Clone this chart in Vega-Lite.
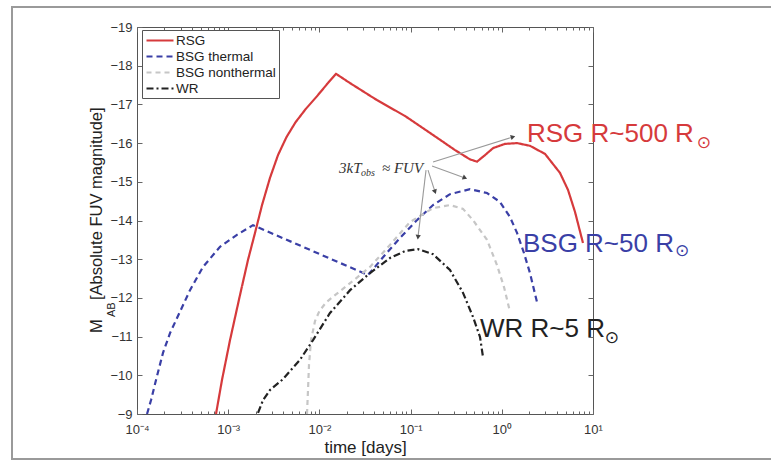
{
  "$schema": "https://vega.github.io/schema/vega-lite/v6.json",
  "width": 456,
  "height": 387,
  "autosize": {"type": "none"},
  "padding": {"left": 137, "top": 27, "right": 178, "bottom": 48},
  "background": "white",
  "config": {
    "font": "Liberation Sans",
    "view": {"stroke": "#555", "strokeWidth": 1},
    "axis": {"labelFont": "Liberation Sans", "titleFont": "Liberation Sans", "labelColor": "#333", "titleColor": "#222", "grid": false, "domain": false, "tickColor": "#666", "tickWidth": 1},
    "legend": {"orient": "none", "legendX": 5, "legendY": 3, "strokeColor": "#555", "fillColor": "white", "padding": 3, "labelFontSize": 13.5, "labelFont": "Liberation Sans", "labelColor": "#222", "symbolType": "M-1,0H3.5", "symbolSize": 144, "symbolStrokeWidth": 2, "rowPadding": 2, "labelOffset": 16, "cornerRadius": 0}
  },
  "datasets": {
    "curves": [
      {"series": "RSG", "t": 0.000735, "M": -9.0},
      {"series": "RSG", "t": 0.000855, "M": -9.88},
      {"series": "RSG", "t": 0.001047, "M": -10.91},
      {"series": "RSG", "t": 0.001346, "M": -12.07},
      {"series": "RSG", "t": 0.001648, "M": -12.98},
      {"series": "RSG", "t": 0.001968, "M": -13.68},
      {"series": "RSG", "t": 0.00235, "M": -14.40},
      {"series": "RSG", "t": 0.002871, "M": -15.10},
      {"series": "RSG", "t": 0.003516, "M": -15.69},
      {"series": "RSG", "t": 0.004365, "M": -16.16},
      {"series": "RSG", "t": 0.005482, "M": -16.54},
      {"series": "RSG", "t": 0.007075, "M": -16.88},
      {"series": "RSG", "t": 0.009395, "M": -17.21},
      {"series": "RSG", "t": 0.01239, "M": -17.55},
      {"series": "RSG", "t": 0.01521, "M": -17.79},
      {"series": "RSG", "t": 0.02168, "M": -17.55},
      {"series": "RSG", "t": 0.04285, "M": -17.11},
      {"series": "RSG", "t": 0.0869, "M": -16.70},
      {"series": "RSG", "t": 0.1762, "M": -16.21},
      {"series": "RSG", "t": 0.3069, "M": -15.82},
      {"series": "RSG", "t": 0.4477, "M": -15.58},
      {"series": "RSG", "t": 0.5346, "M": -15.52},
      {"series": "RSG", "t": 0.6546, "M": -15.69},
      {"series": "RSG", "t": 0.8017, "M": -15.87},
      {"series": "RSG", "t": 1.084, "M": -15.98},
      {"series": "RSG", "t": 1.469, "M": -16.0},
      {"series": "RSG", "t": 2.037, "M": -15.93},
      {"series": "RSG", "t": 2.979, "M": -15.72},
      {"series": "RSG", "t": 4.345, "M": -15.23},
      {"series": "RSG", "t": 5.321, "M": -14.79},
      {"series": "RSG", "t": 6.353, "M": -14.22},
      {"series": "RSG", "t": 7.762, "M": -13.42},
      {"series": "BSG thermal", "t": 0.0001288, "M": -9.0},
      {"series": "BSG thermal", "t": 0.0001426, "M": -9.36},
      {"series": "BSG thermal", "t": 0.0001616, "M": -9.88},
      {"series": "BSG thermal", "t": 0.0001928, "M": -10.58},
      {"series": "BSG thermal", "t": 0.0002301, "M": -11.09},
      {"series": "BSG thermal", "t": 0.0002748, "M": -11.48},
      {"series": "BSG thermal", "t": 0.0003811, "M": -12.20},
      {"series": "BSG thermal", "t": 0.0005297, "M": -12.80},
      {"series": "BSG thermal", "t": 0.0008128, "M": -13.32},
      {"series": "BSG thermal", "t": 0.001247, "M": -13.63},
      {"series": "BSG thermal", "t": 0.001871, "M": -13.88},
      {"series": "BSG thermal", "t": 0.03412, "M": -12.59},
      {"series": "BSG thermal", "t": 0.05236, "M": -13.11},
      {"series": "BSG thermal", "t": 0.07656, "M": -13.55},
      {"series": "BSG thermal", "t": 0.1175, "M": -14.01},
      {"series": "BSG thermal", "t": 0.1762, "M": -14.40},
      {"series": "BSG thermal", "t": 0.2704, "M": -14.68},
      {"series": "BSG thermal", "t": 0.4477, "M": -14.81},
      {"series": "BSG thermal", "t": 0.6887, "M": -14.71},
      {"series": "BSG thermal", "t": 0.955, "M": -14.48},
      {"series": "BSG thermal", "t": 1.23, "M": -14.09},
      {"series": "BSG thermal", "t": 1.469, "M": -13.68},
      {"series": "BSG thermal", "t": 1.75, "M": -13.16},
      {"series": "BSG thermal", "t": 2.037, "M": -12.64},
      {"series": "BSG thermal", "t": 2.432, "M": -11.89},
      {"series": "BSG nonthermal", "t": 0.00731, "M": -9.0},
      {"series": "BSG nonthermal", "t": 0.0075, "M": -9.62},
      {"series": "BSG nonthermal", "t": 0.00769, "M": -10.27},
      {"series": "BSG nonthermal", "t": 0.00809, "M": -10.91},
      {"series": "BSG nonthermal", "t": 0.00895, "M": -11.40},
      {"series": "BSG nonthermal", "t": 0.01, "M": -11.66},
      {"series": "BSG nonthermal", "t": 0.01180, "M": -11.88},
      {"series": "BSG nonthermal", "t": 0.01483, "M": -12.07},
      {"series": "BSG nonthermal", "t": 0.02168, "M": -12.38},
      {"series": "BSG nonthermal", "t": 0.03589, "M": -12.80},
      {"series": "BSG nonthermal", "t": 0.05943, "M": -13.37},
      {"series": "BSG nonthermal", "t": 0.0984, "M": -13.96},
      {"series": "BSG nonthermal", "t": 0.1762, "M": -14.32},
      {"series": "BSG nonthermal", "t": 0.2704, "M": -14.40},
      {"series": "BSG nonthermal", "t": 0.3758, "M": -14.30},
      {"series": "BSG nonthermal", "t": 0.4831, "M": -14.01},
      {"series": "BSG nonthermal", "t": 0.6887, "M": -13.50},
      {"series": "BSG nonthermal", "t": 0.8851, "M": -12.85},
      {"series": "BSG nonthermal", "t": 1.057, "M": -12.28},
      {"series": "BSG nonthermal", "t": 1.23, "M": -11.64},
      {"series": "WR", "t": 0.002123, "M": -9.03},
      {"series": "WR", "t": 0.00241, "M": -9.36},
      {"series": "WR", "t": 0.002871, "M": -9.62},
      {"series": "WR", "t": 0.00399, "M": -9.90},
      {"series": "WR", "t": 0.006124, "M": -10.40},
      {"series": "WR", "t": 0.008511, "M": -10.91},
      {"series": "WR", "t": 0.01306, "M": -11.61},
      {"series": "WR", "t": 0.02168, "M": -12.20},
      {"series": "WR", "t": 0.03589, "M": -12.64},
      {"series": "WR", "t": 0.05943, "M": -13.03},
      {"series": "WR", "t": 0.0869, "M": -13.21},
      {"series": "WR", "t": 0.1205, "M": -13.26},
      {"series": "WR", "t": 0.1762, "M": -13.13},
      {"series": "WR", "t": 0.2704, "M": -12.72},
      {"series": "WR", "t": 0.3758, "M": -12.13},
      {"series": "WR", "t": 0.4831, "M": -11.51},
      {"series": "WR", "t": 0.5768, "M": -10.99},
      {"series": "WR", "t": 0.6223, "M": -10.47}
    ],
    "arrows": [
      {"id": 1, "t0": 0.1762, "M0": -15.51, "t1": 1.327, "M1": -16.16},
      {"id": 2, "t0": 0.1718, "M0": -15.41, "t1": 0.3945, "M1": -15.10},
      {"id": 3, "t0": 0.1552, "M0": -15.30, "t1": 0.1854, "M1": -14.74},
      {"id": 4, "t0": 0.1476, "M0": -15.30, "t1": 0.1205, "M1": -13.57}
    ],
    "labels": [
      {"text": "RSG R~500 R", "series": "RSG", "t": 1.888, "M": -16.03},
      {"text": "BSG R~50 R", "series": "BSG thermal", "t": 1.706, "M": -13.19},
      {"text": "WR R~5 R", "series": "WR", "t": 0.577, "M": -10.99}
    ],
    "suns": [
      {"series": "RSG", "t": 164.8, "M": -16.0},
      {"series": "BSG thermal", "t": 94.6, "M": -13.21},
      {"series": "WR", "t": 16.14, "M": -10.96}
    ],
    "notes": [
      {"part": "big", "text": "3kT", "t": 0.01641, "M": -15.227},
      {"part": "small", "text": "obs", "t": 0.02858, "M": -15.15},
      {"part": "big", "text": "≈ FUV", "t": 0.04853, "M": -15.227}
    ],
    "ytitle": [
      {"part": "big", "text": "M", "t": 0.0000413, "M": -11.093},
      {"part": "small", "text": "AB", "t": 0.00005741, "M": -11.506},
      {"part": "big", "text": "[Absolute FUV magnitude]", "t": 0.0000413, "M": -11.946}
    ]
  },
  "resolve": {"axis": {"x": "independent", "y": "independent"}},
  "layer": [
    {
      "data": {"values": [{}]},
      "mark": {"type": "rect", "fill": null, "fillOpacity": 0, "stroke": "#9a9a9a", "strokeWidth": 2, "clip": false},
      "encoding": {
        "x": {"datum": 0.00000426, "type": "quantitative", "scale": {"type": "log", "domain": [0.0001, 10], "nice": false}, "axis": null},
        "x2": {"datum": 1122},
        "y": {"datum": -19.517, "type": "quantitative", "scale": {"domain": [-19, -9], "reverse": true, "nice": false, "zero": false}, "axis": null},
        "y2": {"datum": -7.837}
      }
    },
    {
      "data": {"name": "curves"},
      "mark": {"type": "line"},
      "encoding": {
        "x": {"field": "t", "type": "quantitative", "scale": {"type": "log", "domain": [0.0001, 10], "nice": false},
          "axis": {"orient": "bottom", "values": [0.0001, 0.001, 0.01, 0.1, 1, 10], "labelExpr": "'10' + ['⁻⁴','⁻³','⁻²','⁻¹','⁰','¹'][round(log(datum.value)/LN10)+4]", "ticks": false, "labelPadding": 9, "labelFontSize": 13, "labelFlush": false, "title": "time [days]", "titleFontSize": 17, "titleFontWeight": "normal", "titlePadding": 3}},
        "y": {"field": "M", "type": "quantitative", "scale": {"domain": [-19, -9], "reverse": true, "nice": false, "zero": false},
          "axis": {"orient": "left", "values": [-19, -18, -17, -16, -15, -14, -13, -12, -11, -10, -9], "ticks": false, "labelPadding": 5, "labelFontSize": 13, "title": null}},
        "color": {"field": "series", "type": "nominal", "scale": {"domain": ["RSG", "BSG thermal", "BSG nonthermal", "WR"], "range": ["#d63a3c", "#3a3fa6", "#c6c6c6", "#222222"]}, "legend": {"title": null}},
        "strokeDash": {"field": "series", "type": "nominal", "scale": {"domain": ["RSG", "BSG thermal", "BSG nonthermal", "WR"], "range": [[1, 0], [6, 4], [5, 4], [7, 3, 2, 3]]}, "legend": {"title": null}},
        "strokeWidth": {"field": "series", "type": "nominal", "scale": {"domain": ["RSG", "BSG thermal", "BSG nonthermal", "WR"], "range": [2.2, 2.2, 1.6, 2]}, "legend": {"title": null}}
      }
    },
    {
      "data": {"values": [{"t": 1, "M": -14}]},
      "mark": {"type": "point", "opacity": 0},
      "encoding": {
        "x": {"field": "t", "type": "quantitative", "axis": {"orient": "bottom", "values": [0.0001, 0.001, 0.01, 0.1, 1, 10], "tickSize": -5, "labels": false, "title": null}},
        "y": {"field": "M", "type": "quantitative", "axis": {"orient": "left", "values": [-19, -18, -17, -16, -15, -14, -13, -12, -11, -10, -9], "tickSize": -5, "labels": false, "title": null}}
      }
    },
    {
      "data": {"values": [{"t": 1, "M": -14}]},
      "mark": {"type": "point", "opacity": 0},
      "encoding": {
        "x": {"field": "t", "type": "quantitative", "axis": {"orient": "bottom", "values": [0.0002, 0.0003, 0.0004, 0.0005, 0.0006, 0.0007, 0.0008, 0.0009, 0.002, 0.003, 0.004, 0.005, 0.006, 0.007, 0.008, 0.009, 0.02, 0.03, 0.04, 0.05, 0.06, 0.07, 0.08, 0.09, 0.2, 0.3, 0.4, 0.5, 0.6, 0.7, 0.8, 0.9, 2, 3, 4, 5, 6, 7, 8, 9], "tickSize": -3, "labels": false, "title": null}},
        "y": {"field": "M", "type": "quantitative", "axis": {"orient": "right", "values": [-19, -18, -17, -16, -15, -14, -13, -12, -11, -10, -9], "tickSize": -5, "labels": false, "title": null}}
      }
    },
    {
      "data": {"values": [{"t": 1, "M": -14}]},
      "mark": {"type": "point", "opacity": 0},
      "encoding": {
        "x": {"field": "t", "type": "quantitative", "axis": {"orient": "top", "values": [0.0001, 0.001, 0.01, 0.1, 1, 10], "tickSize": -5, "labels": false, "title": null}},
        "y": {"field": "M", "type": "quantitative", "axis": null}
      }
    },
    {
      "data": {"values": [{"t": 1, "M": -14}]},
      "mark": {"type": "point", "opacity": 0},
      "encoding": {
        "x": {"field": "t", "type": "quantitative", "axis": {"orient": "top", "values": [0.0002, 0.0003, 0.0004, 0.0005, 0.0006, 0.0007, 0.0008, 0.0009, 0.002, 0.003, 0.004, 0.005, 0.006, 0.007, 0.008, 0.009, 0.02, 0.03, 0.04, 0.05, 0.06, 0.07, 0.08, 0.09, 0.2, 0.3, 0.4, 0.5, 0.6, 0.7, 0.8, 0.9, 2, 3, 4, 5, 6, 7, 8, 9], "tickSize": -3, "labels": false, "title": null}},
        "y": {"field": "M", "type": "quantitative", "axis": null}
      }
    },
    {
      "data": {"name": "arrows"},
      "mark": {"type": "rule", "color": "#9a9a9a", "strokeWidth": 1.1},
      "encoding": {
        "x": {"field": "t0", "type": "quantitative", "axis": null},
        "x2": {"field": "t1"},
        "y": {"field": "M0", "type": "quantitative", "axis": null},
        "y2": {"field": "M1"}
      }
    },
    {
      "data": {"name": "arrows"},
      "transform": [{"filter": "datum.id == 1"}],
      "mark": {"type": "point", "shape": "triangle-up", "angle": 73, "filled": true, "color": "#444", "size": 28, "opacity": 1},
      "encoding": {"x": {"field": "t1", "type": "quantitative", "axis": null}, "y": {"field": "M1", "type": "quantitative", "axis": null}}
    },
    {
      "data": {"name": "arrows"},
      "transform": [{"filter": "datum.id == 2"}],
      "mark": {"type": "point", "shape": "triangle-up", "angle": 112, "filled": true, "color": "#444", "size": 28, "opacity": 1},
      "encoding": {"x": {"field": "t1", "type": "quantitative", "axis": null}, "y": {"field": "M1", "type": "quantitative", "axis": null}}
    },
    {
      "data": {"name": "arrows"},
      "transform": [{"filter": "datum.id == 3"}],
      "mark": {"type": "point", "shape": "triangle-up", "angle": 160, "filled": true, "color": "#444", "size": 28, "opacity": 1},
      "encoding": {"x": {"field": "t1", "type": "quantitative", "axis": null}, "y": {"field": "M1", "type": "quantitative", "axis": null}}
    },
    {
      "data": {"name": "arrows"},
      "transform": [{"filter": "datum.id == 4"}],
      "mark": {"type": "point", "shape": "triangle-up", "angle": 186, "filled": true, "color": "#444", "size": 28, "opacity": 1},
      "encoding": {"x": {"field": "t1", "type": "quantitative", "axis": null}, "y": {"field": "M1", "type": "quantitative", "axis": null}}
    },
    {
      "data": {"name": "labels"},
      "mark": {"type": "text", "font": "Liberation Sans", "fontSize": 26, "align": "left", "baseline": "alphabetic"},
      "encoding": {
        "x": {"field": "t", "type": "quantitative", "axis": null},
        "y": {"field": "M", "type": "quantitative", "axis": null},
        "text": {"field": "text"},
        "color": {"field": "series", "type": "nominal", "legend": null}
      }
    },
    {
      "data": {"name": "suns"},
      "mark": {"type": "text", "font": "DejaVu Sans", "fontSize": 17, "align": "center", "baseline": "middle"},
      "encoding": {
        "x": {"field": "t", "type": "quantitative", "axis": null},
        "y": {"field": "M", "type": "quantitative", "axis": null},
        "text": {"value": "⊙"},
        "color": {"field": "series", "type": "nominal", "legend": null}
      }
    },
    {
      "data": {"name": "notes"},
      "transform": [{"filter": "datum.part == 'big'"}],
      "mark": {"type": "text", "font": "Liberation Serif", "fontStyle": "italic", "fontSize": 15, "align": "left", "baseline": "alphabetic", "color": "#333"},
      "encoding": {
        "x": {"field": "t", "type": "quantitative", "axis": null},
        "y": {"field": "M", "type": "quantitative", "axis": null},
        "text": {"field": "text"}
      }
    },
    {
      "data": {"name": "notes"},
      "transform": [{"filter": "datum.part == 'small'"}],
      "mark": {"type": "text", "font": "Liberation Serif", "fontStyle": "italic", "fontSize": 10, "align": "left", "baseline": "alphabetic", "color": "#333"},
      "encoding": {
        "x": {"field": "t", "type": "quantitative", "axis": null},
        "y": {"field": "M", "type": "quantitative", "axis": null},
        "text": {"field": "text"}
      }
    },
    {
      "data": {"name": "ytitle"},
      "transform": [{"filter": "datum.part == 'big'"}],
      "mark": {"type": "text", "font": "Liberation Sans", "fontSize": 16.5, "angle": -90, "align": "left", "baseline": "alphabetic", "color": "#222"},
      "encoding": {
        "x": {"field": "t", "type": "quantitative", "axis": null},
        "y": {"field": "M", "type": "quantitative", "axis": null},
        "text": {"field": "text"}
      }
    },
    {
      "data": {"name": "ytitle"},
      "transform": [{"filter": "datum.part == 'small'"}],
      "mark": {"type": "text", "font": "Liberation Sans", "fontSize": 11, "angle": -90, "align": "left", "baseline": "alphabetic", "color": "#222"},
      "encoding": {
        "x": {"field": "t", "type": "quantitative", "axis": null},
        "y": {"field": "M", "type": "quantitative", "axis": null},
        "text": {"field": "text"}
      }
    }
  ]
}
